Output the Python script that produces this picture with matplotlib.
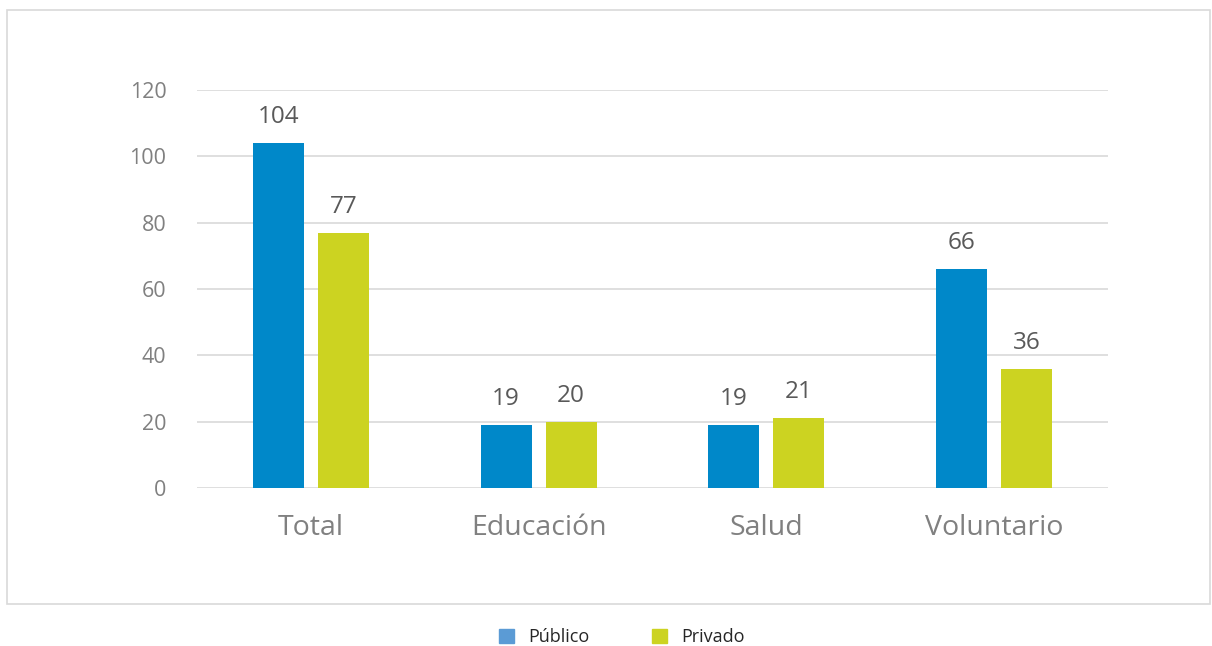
import matplotlib
matplotlib.use("Agg")
import matplotlib.pyplot as plt
import numpy as np
from matplotlib.patches import Rectangle, Patch

categories = ["Total", "Educación", "Salud", "Voluntario"]
publico = [104, 19, 19, 66]
privado = [77, 20, 21, 36]
series_names = ["Público", "Privado"]
yticks = [0, 20, 40, 60, 80, 100, 120]

bar_blue = "#0088C9"
bar_green = "#CCD321"
leg_blue = "#5B9BD5"

plt.rcParams['font.family'] = ['Open Sans', 'DejaVu Sans']

fig = plt.figure(figsize=(12.12, 6.46), dpi=100)
fig.patches.append(Rectangle((7/1212, 1-604/646), (1210-7)/1212, (604-10)/646,
                             transform=fig.transFigure, fill=False,
                             edgecolor="#d9d9d9", linewidth=1.2))

ax = fig.add_axes([197/1212, 1-488/646, 911/1212, 398/646])
x = np.arange(len(categories))
w = 0.224
off = 0.1425
b1 = ax.bar(x - off, publico, w, color=bar_blue, zorder=3)
b2 = ax.bar(x + off, privado, w, color=bar_green, zorder=3)
for bars, vals in ((b1, publico), (b2, privado)):
    for r, v in zip(bars, vals):
        ax.annotate(str(v), (r.get_x() + r.get_width()/2, v), xytext=(0, 10),
                    textcoords="offset points", ha="center", va="bottom",
                    fontsize=17.5, color="#595959")

ax.set_xlim(-0.5, 3.5)
ax.set_ylim(0, 120)
ax.set_yticks(yticks)
ax.set_yticklabels([str(t) for t in yticks], fontsize=15.5, color="#808080")
ax.set_xticks(x)
ax.set_xticklabels(categories, fontsize=20.5, color="#808080")
ax.tick_params(axis="y", length=0, pad=22)
ax.tick_params(axis="x", length=0, pad=19)
ax.grid(axis="y", color="#d9d9d9", linewidth=1.2, zorder=0)
for s in ax.spines.values():
    s.set_visible(False)

handles = [Patch(color=leg_blue), Patch(color=bar_green)]
fig.legend(handles, series_names, loc="center", bbox_to_anchor=(622/1212, 1-637/646),
           ncol=2, frameon=False, fontsize=13, handlelength=0.8, handleheight=0.8,
           columnspacing=3.5, handletextpad=0.8, labelcolor="#262626")

fig.savefig("out.png", dpi=100)
